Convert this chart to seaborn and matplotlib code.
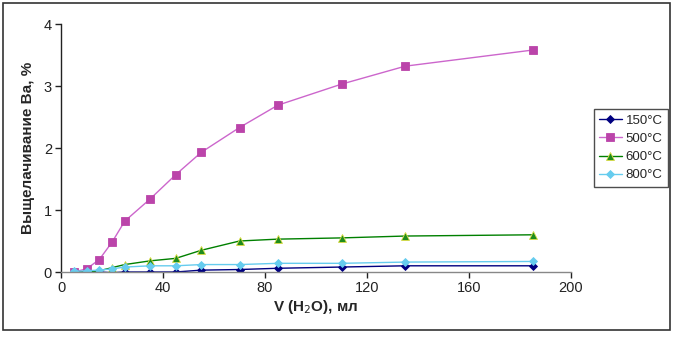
import matplotlib
matplotlib.use('Agg')
import matplotlib.pyplot as plt
import seaborn as sns
import pandas as pd
import numpy as np

# data
volume = [5, 10, 15, 20, 25, 35, 45, 55, 70, 85, 110, 135, 185]
ba_150 = [0.0, 0.0, 0.0, -0.01, 0.0, 0.0, 0.0, 0.03, 0.04, 0.06, 0.08, 0.10, 0.10]
ba_500 = [0.0, 0.05, 0.20, 0.48, 0.82, 1.18, 1.57, 1.93, 2.33, 2.69, 3.03, 3.32, 3.58]
ba_600 = [0.0, 0.0, 0.02, 0.07, 0.12, 0.18, 0.22, 0.35, 0.50, 0.53, 0.55, 0.58, 0.60]
ba_800 = [0.01, 0.02, 0.03, 0.05, 0.08, 0.10, 0.10, 0.12, 0.12, 0.14, 0.14, 0.16, 0.17]
labels = ['150°C', '500°C', '600°C', '800°C']

df = pd.DataFrame({'V': volume * 4,
                   'Ba': ba_150 + ba_500 + ba_600 + ba_800,
                   'T': np.repeat(labels, len(volume))})

sns.set_theme(style='white')
plt.rcParams['font.family'] = ['Liberation Sans', 'DejaVu Sans']

fig = plt.figure(figsize=(6.81, 3.39), dpi=100)
ax = fig.add_axes([61 / 681, 1 - 272 / 339, 510 / 681, 248 / 339])

styles = {'150°C': ('#000080', '#000080', 'D', 4),
          '500°C': ('#CC66CC', '#BB44AA', 's', 5.5),
          '600°C': ('#008000', '#1E8C1E', '^', 5.5),
          '800°C': ('#66CCEE', '#66CCEE', 'D', 4)}
for t in labels:
    lc, mc, mk, ms = styles[t]
    sub = df[df['T'] == t]
    sns.lineplot(data=sub, x='V', y='Ba', ax=ax, color=lc, lw=1, marker=mk,
                 markersize=ms, markerfacecolor=mc,
                 markeredgecolor='#DDDD44' if t == '600°C' else mc,
                 markeredgewidth=0.6, label=t)

ax.set_xlim(0, 200)
ax.set_ylim(0, 4)
ax.set_xticks([0, 40, 80, 120, 160, 200])
ax.set_yticks([0, 1, 2, 3, 4])
ax.tick_params(axis='both', labelsize=10.5, length=4, width=1, colors='#222222',
               direction='out', bottom=True, left=True, pad=2.5)
for s in ['top', 'right']:
    ax.spines[s].set_visible(False)
for s in ['left', 'bottom']:
    ax.spines[s].set_color('#222222')
    ax.spines[s].set_linewidth(1)
ax.spines['bottom'].set_color('#888888')

ax.set_xlabel('V (H$_2$O), мл', fontsize=11, fontweight='bold', labelpad=2)
ax.set_ylabel('Выщелачивание Ва, %', fontsize=11, fontweight='bold', labelpad=6)

leg = ax.legend(loc='center left', bbox_to_anchor=(594 / 681, 1 - 148 / 339),
                bbox_transform=fig.transFigure, frameon=True, fancybox=False,
                fontsize=9.5, handlelength=1.7, handletextpad=0.3,
                borderpad=0.4, labelspacing=0.45, borderaxespad=0)
leg.get_frame().set_edgecolor('#222222')
leg.get_frame().set_linewidth(1)

# outer chart border
fig.patches.append(plt.Rectangle((3 / 681, 9 / 339), 667 / 681, 327 / 339,
                                 transform=fig.transFigure, fill=False,
                                 edgecolor='#333333', lw=1.2))

fig.savefig('out.png', dpi=100)
